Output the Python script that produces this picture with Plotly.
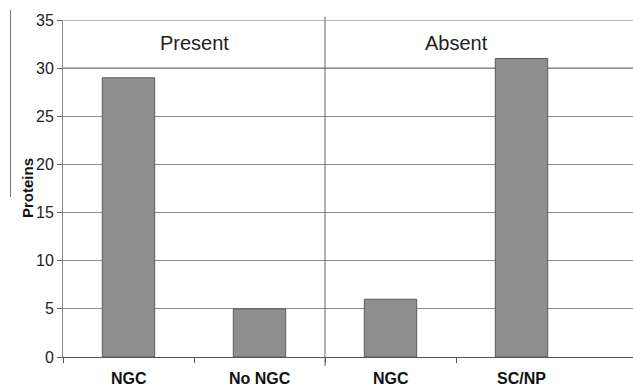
import plotly.graph_objects as go

categories = ["NGC", "No NGC", "NGC", "SC/NP"]
values = [29, 5, 6, 31]
groups = ["Present", "Absent"]
y_ticks = [0, 5, 10, 15, 20, 25, 30, 35]

x_pos = list(range(len(categories)))
W, H = 633, 386
L, R, T, B = 63, 0, 20, 29
FONT = "Liberation Sans, Arial, sans-serif"

fig = go.Figure()
fig.add_trace(go.Bar(
    x=x_pos, y=values, width=0.4,
    marker=dict(color="#8e8e8e", line=dict(color="#5a5a5a", width=1)),
    showlegend=False,
))

px_per_cat = 131.0
x_max = -0.5 + (W - L) / px_per_cat

fig.update_layout(
    width=W, height=H,
    margin=dict(l=L, r=R, t=T, b=B, autoexpand=False),
    plot_bgcolor="white", paper_bgcolor="white",
    font=dict(family=FONT, color="#222"),
    xaxis=dict(
        range=[-0.5, x_max], showgrid=False, zeroline=False, automargin=False,
        tickvals=[-0.5, 0.5, 1.5, 2.5], ticks="outside", ticklen=5,
        tickcolor="#555", showticklabels=False,
        showline=True, linecolor="#555", linewidth=1,
    ),
    yaxis=dict(
        range=[0, 35], tickvals=y_ticks, ticks="outside", ticklen=5,
        tickcolor="#666", showgrid=True, gridcolor="#8a8a8a", gridwidth=1,
        zeroline=False, showline=True, linecolor="#888", linewidth=1,
        automargin=False,
        tickfont=dict(size=16, color="#222"),
    ),
    bargap=0.6,
)

# y-axis title
fig.add_annotation(x=(17 - L) / (W - L), y=0.5, xref="paper", yref="paper",
                   text="<b>Proteins</b>", textangle=-90, showarrow=False,
                   font=dict(size=15, color="#111"))

# category labels
for xi, lab in zip(x_pos, categories):
    fig.add_annotation(x=xi, y=0, xref="x", yref="y", yshift=-21, text=f"<b>{lab}</b>",
                       showarrow=False, font=dict(size=16, color="#111"))

# group labels
for gi, g in enumerate(groups):
    fig.add_annotation(x=0.5 + 2 * gi, y=32.6, xref="x", yref="y", text=g,
                       showarrow=False, font=dict(size=20, color="#222"))

# top line lighter, 30 line darker
fig.add_shape(type="line", xref="paper", yref="y", x0=0, x1=1, y0=35, y1=35,
              line=dict(color="#aaaaaa", width=1.5))
fig.add_shape(type="line", xref="paper", yref="y", x0=0, x1=1, y0=30, y1=30,
              line=dict(color="#555555", width=1), layer="below")
# group divider
fig.add_shape(type="line", xref="x", yref="paper", x0=1.5, x1=1.5, y0=-0.027, y1=1.01,
              line=dict(color="#666666", width=1))
# stray line at left
fig.add_shape(type="line", xref="paper", yref="paper",
              x0=(10.5 - L) / (W - L), x1=(10.5 - L) / (W - L),
              y0=(357 - 197) / 337, y1=(357 - 10) / 337,
              line=dict(color="#777777", width=1))

fig.write_html("out.html", config={"displayModeBar": False},
               post_script="document.body.style.margin='0';document.body.style.overflow='hidden';")
